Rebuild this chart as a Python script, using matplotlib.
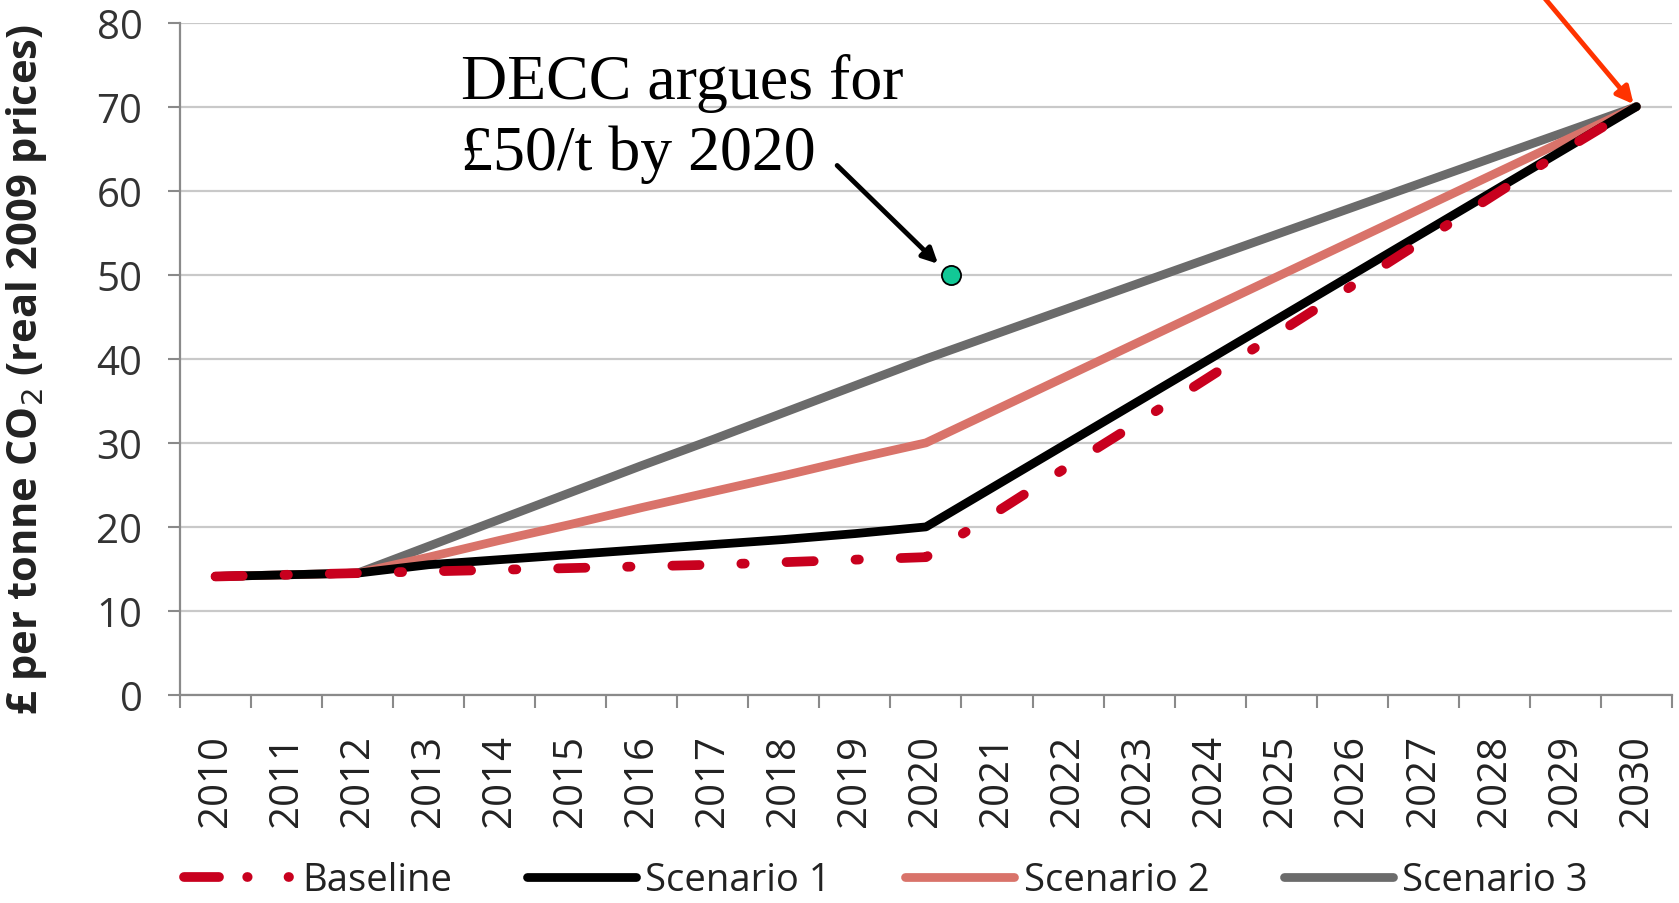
import matplotlib
matplotlib.use("Agg")
import matplotlib.pyplot as plt
from matplotlib.lines import Line2D
import numpy as np

years = [str(y) for y in range(2010, 2031)]
baseline = [14.1, 14.3, 14.5, 14.7, 14.9, 15.1, 15.3, 15.5, 15.8, 16.1, 16.4,
            21.8, 27.2, 32.5, 37.9, 43.3, 48.7, 54.1, 59.5, 64.9, 70.0]
scenario1 = [14.1, 14.3, 14.5, 15.5, 16.1, 16.7, 17.3, 17.9, 18.5, 19.2, 20.0,
             25.0, 30.0, 35.0, 40.0, 45.0, 50.0, 55.0, 60.0, 65.0, 70.0]
scenario2 = [14.1, 14.3, 14.5, 16.4, 18.4, 20.3, 22.3, 24.2, 26.1, 28.1, 30.0,
             34.0, 38.0, 42.0, 46.0, 50.0, 54.0, 58.0, 62.0, 66.0, 70.0]
scenario3 = [14.1, 14.3, 14.5, 17.7, 20.9, 24.1, 27.3, 30.4, 33.6, 36.8, 40.0,
             43.0, 46.0, 49.0, 52.0, 55.0, 58.0, 61.0, 64.0, 67.0, 70.0]
decc_year_pos = 10.35
decc_value = 50
target_value = 70

plt.rcParams['font.family'] = ['Open Sans', 'DejaVu Sans']

fig = plt.figure(figsize=(16.79, 9.04), dpi=100)
ax = fig.add_axes([0.1072, 0.2301, 0.8886, 0.7438])

x = np.arange(len(years))
colors = {'Baseline': '#c8001e', 'Scenario 1': '#000000',
          'Scenario 2': '#d9736a', 'Scenario 3': '#6b6b6b'}
ax.plot(x, scenario3, color=colors['Scenario 3'], lw=6.3, solid_capstyle='round', zorder=3)
ax.plot(x, scenario2, color=colors['Scenario 2'], lw=6.3, solid_capstyle='round', zorder=4)
ax.plot(x, scenario1, color=colors['Scenario 1'], lw=6.3, solid_capstyle='round', zorder=5)
ax.plot(x, baseline, color=colors['Baseline'], lw=7, dashes=(2.8, 4.3, 0.35, 4.3),
        dash_capstyle='round', zorder=6)

ax.scatter([decc_year_pos], [decc_value], s=190, color='#12c896', edgecolor='black',
           linewidth=1.3, zorder=8)

ax.set_xlim(-0.5, len(years) - 0.5)
ax.set_ylim(0, 80)
ax.set_yticks(np.arange(0, 81, 10))
ax.set_xticks(x)
ax.set_xticklabels(years, rotation=90)
ax.set_xticks(np.arange(-0.5, len(years), 1), minor=True)
ax.tick_params(axis='x', which='major', length=0, pad=28, labelsize=29, labelcolor='#222222')
ax.tick_params(axis='x', which='minor', length=9, width=1.5, color='#8a8a8a', direction='out')
ax.tick_params(axis='y', length=9, width=1.5, color='#8a8a8a', pad=18, labelsize=29,
               labelcolor='#333333')

ax.grid(axis='y', color='#c9c9c9', lw=1.6, zorder=0)
for s in ['top', 'right']:
    ax.spines[s].set_visible(False)
for s in ['left', 'bottom']:
    ax.spines[s].set_color('#8a8a8a')
    ax.spines[s].set_linewidth(1.6)

ax.set_ylabel('£ per tonne CO$_2$ (real 2009 prices)', fontsize=30, fontweight='bold',
              color='#222222')
ax.yaxis.set_label_coords(-0.088, 0.485)

ax.text(0.1886, 0.955, 'DECC argues for\n£50/t by 2020', transform=ax.transAxes,
        family='Liberation Serif', fontsize=46, va='top', ha='left', linespacing=1.28,
        color='black')
ax.annotate('', xy=(decc_year_pos - 0.18, decc_value + 1.3), xytext=(8.75, 63.0),
            arrowprops=dict(arrowstyle='-|>,head_length=0.9,head_width=0.45', lw=3.5,
                            color='black', shrinkA=0, shrinkB=0), zorder=7)
ax.annotate('', xy=(len(years) - 1 - 0.04, target_value + 0.3), xytext=(18.6, 84),
            arrowprops=dict(arrowstyle='-|>,head_length=1.0,head_width=0.5', lw=3.5,
                            color='#ff3300', shrinkA=0, shrinkB=0),
            annotation_clip=False, zorder=9)

# legend keys: a compact dash-dot sample for the baseline, solid strokes for the rest
legend_labels = ['Baseline', 'Scenario 1', 'Scenario 2', 'Scenario 3']
legend_handles = [Line2D([], [], color=colors['Baseline'], lw=7,
                         dashes=(3.6, 2.9, 0.05, 4.2, 0.05, 10), dash_capstyle='round')]
legend_handles += [Line2D([], [], color=colors[k], lw=6.3, solid_capstyle='round')
                   for k in legend_labels[1:]]
leg = fig.legend(legend_handles, legend_labels,
                 loc='lower left', bbox_to_anchor=(0.089, -0.034), ncol=4, frameon=False,
                 fontsize=27.5, handlelength=2.85, handletextpad=0.25, columnspacing=1.95)
for t in leg.get_texts():
    t.set_color('#222222')

fig.savefig('out.png', dpi=100)
